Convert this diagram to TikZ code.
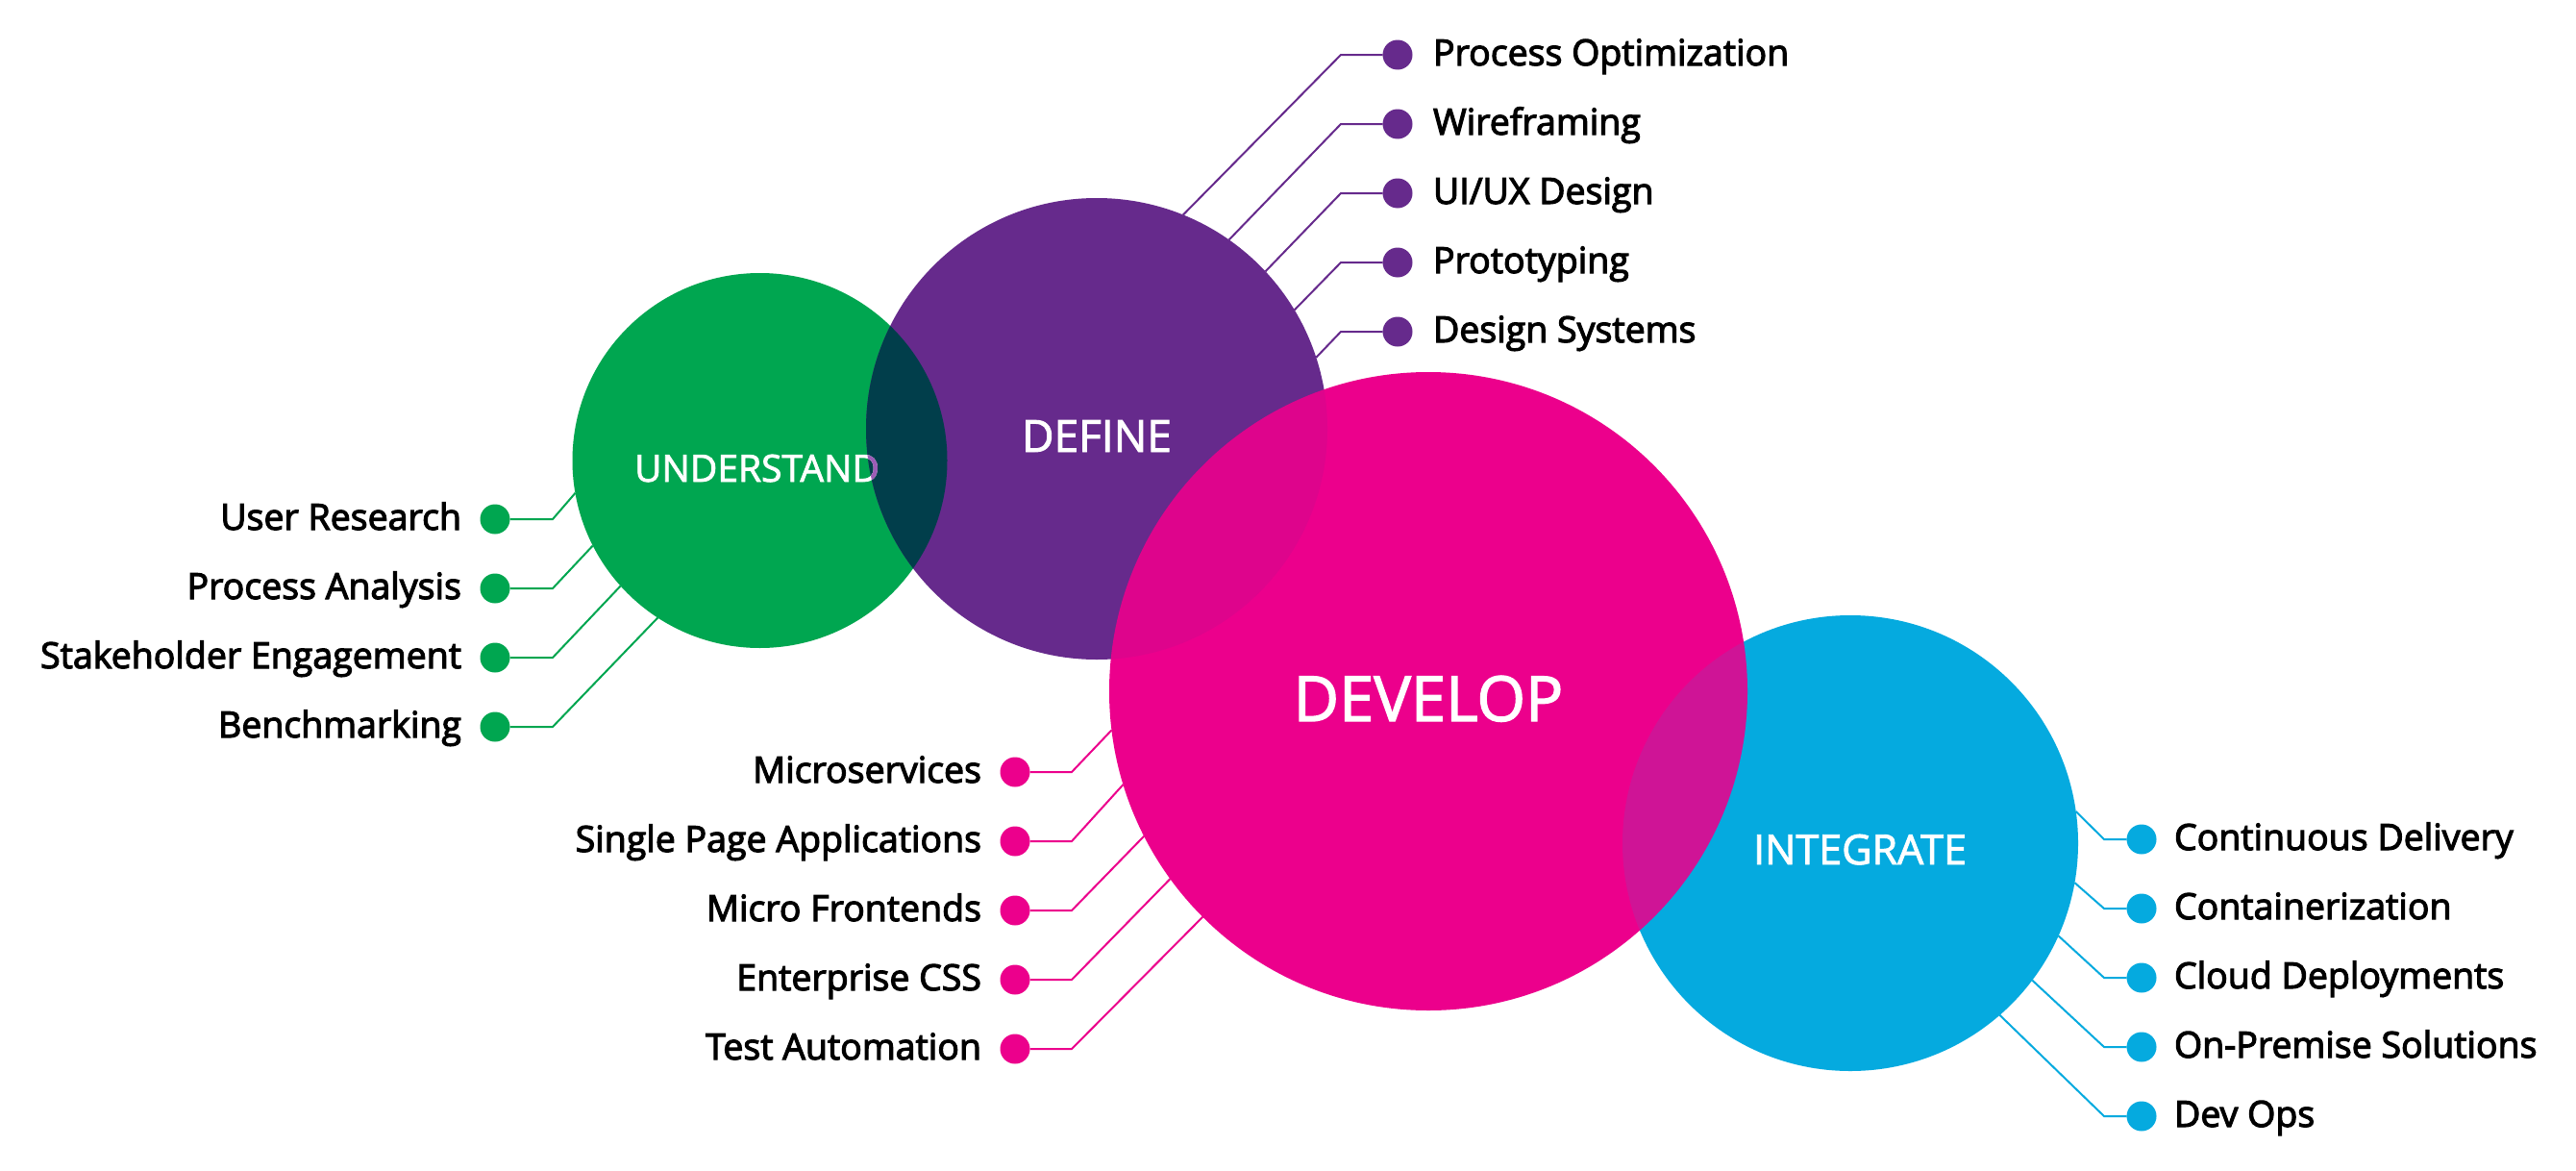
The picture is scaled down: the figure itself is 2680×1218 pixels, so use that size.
\documentclass[tikz,border=0pt]{standalone}
\usepackage{fontspec}
\setmainfont{Open Sans}
\newfontfamily\itemfont{Open Sans}[FakeBold=3]
\newfontfamily\titlefont{Open Sans}[FakeBold=2]
\definecolor{cgreen}{RGB}{0,166,80}
\definecolor{cpurple}{RGB}{102,42,140}
\definecolor{cmag}{RGB}{236,0,140}
\definecolor{cblue}{RGB}{5,170,223}
\definecolor{clens}{RGB}{1,62,75}
\definecolor{clav}{RGB}{155,92,182}
\begin{document}
\begin{tikzpicture}[x=1pt,y=-1pt,
  phase/.style={circle, minimum size=#1, inner sep=0pt, outer sep=0pt},
  dot/.style={circle, fill=#1, minimum size=31pt, inner sep=0pt, outer sep=0pt},
  lead/.style={draw=#1, line width=2pt},
  item/.style={font=\itemfont\fontsize{37.5}{40}\selectfont, text=black, inner sep=0pt, outer sep=0pt},
  title/.style={text=white, inner sep=0pt, anchor=base, font=\titlefont\fontsize{#1}{#1}\selectfont},
]
\useasboundingbox[fill=white] (0,0) rectangle (2680,1218);

% the four phases
\node[phase=390pt, fill=cgreen] (und) at (790.5,479) {};
\node[phase=480pt, fill=cpurple] (def) at (1141,446) {};
\begin{scope}
  \clip (790.5,479) circle[radius=195pt];
  \fill[clens] (1141,446) circle[radius=240pt];
\end{scope}
\node[phase=474pt, fill=cblue] (int) at (1925,877) {};
\node[phase=664pt, fill=cmag] (dev) at (1486,719) {};
% neighbouring phases shine faintly through the develop disc
\begin{scope}
  \clip (1486,719) circle[radius=332pt];
  \fill[cpurple, fill opacity=0.1] (1141,446) circle[radius=240pt];
  \fill[cblue, fill opacity=0.12] (1925,877) circle[radius=237pt];
\end{scope}

% phase titles
\node[title=39] (und-t) at (787.5,501) {UNDERSTAND};
\begin{scope}
  \clip (1141,446) circle[radius=240pt];
  \node[title=39, text=clav] (und-t2) at (787.5,501) {UNDERSTAND};
\end{scope}
\node[title=46] (def-t) at (1141,470) {DEFINE};
\node[title=65] (dev-t) at (1486,750) {DEVELOP};
\node[title=43] (int-t) at (1935,899) {INTEGRATE};

% understand
\foreach \y/\t/\a [count=\i] in {540/User Research/190.9, 612/Process Analysis/207.6,
    684/Stakeholder Engagement/222.8, 756/Benchmarking/237.9} {
  \node[dot=cgreen] (u\i) at (515,\y) {};
  \node[item, anchor=base east] (u\i-t) at (480,\y+11) {\t};
  \coordinate (u\i-e) at (575,\y);
  \draw[lead=cgreen] (u\i) -- (u\i-e) -- (und.\a);
}

% define
\foreach \y/\t/\a [count=\i] in {57/Process Optimization/68.4, 129/Wireframing/55.7,
    201/{UI/UX Design}/43.5, 273/Prototyping/31.2, 345/Design Systems/18.2} {
  \node[dot=cpurple] (d\i) at (1454,\y) {};
  \node[item, anchor=base west] (d\i-t) at (1491,\y+11) {\t};
  \coordinate (d\i-e) at (1395,\y);
  \draw[lead=cpurple] (d\i) -- (d\i-e) -- (def.\a);
}

% develop
\foreach \y/\t/\a [count=\i] in {803/Microservices/187.3, 875/Single Page Applications/197.7,
    947/Micro Frontends/207.3, 1019/Enterprise CSS/216.3, 1091/Test Automation/225.1} {
  \node[dot=cmag] (v\i) at (1056,\y) {};
  \node[item, anchor=base east] (v\i-t) at (1021,\y+11) {\t};
  \coordinate (v\i-e) at (1115,\y);
  \draw[lead=cmag] (v\i) -- (v\i-e) -- (dev.\a);
}

% integrate
\foreach \y/\t/\a [count=\i] in {873/Continuous Delivery/8.1, 945/Containerization/350.8,
    1017/Cloud Deployments/336.7, 1089/On-Premise Solutions/323.9, 1161/Dev Ops/311.6} {
  \node[dot=cblue] (g\i) at (2228,\y) {};
  \node[item, anchor=base west] (g\i-t) at (2262,\y+11) {\t};
  \coordinate (g\i-e) at (2189,\y);
  \draw[lead=cblue] (g\i) -- (g\i-e) -- (int.\a);
}
\end{tikzpicture}
\end{document}
